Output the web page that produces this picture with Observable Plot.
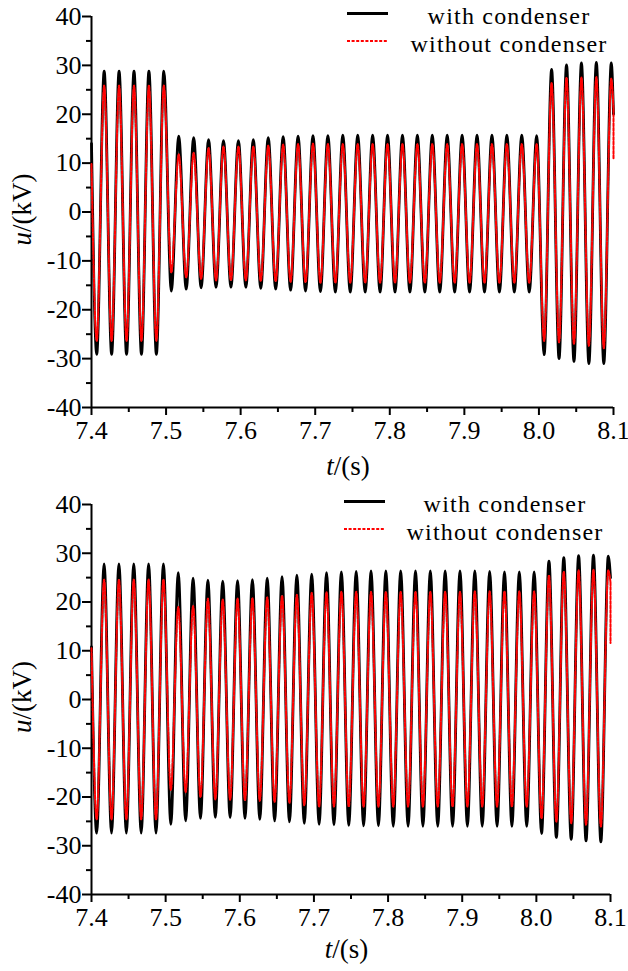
<!DOCTYPE html>
<html>
<head>
<meta charset="utf-8">
<script src="https://cdn.jsdelivr.net/npm/d3@7"></script>
<script src="https://cdn.jsdelivr.net/npm/@observablehq/plot@0.6"></script>
<style>
html, body { margin: 0; padding: 0; background: #fff; }
#chart { width: 628px; }
svg { display: block; }
svg text { font-family: "Times New Roman", "Liberation Serif", Tinos, "Noto Serif", FreeSerif, "DejaVu Serif", Times, serif; }
</style>
</head>
<body>
<div id="chart"></div>
<script>
// ---- axis ticks ----
const xTicks = [7.4, 7.5, 7.6, 7.7, 7.8, 7.9, 8.0, 8.1];
const xTickLabels = ["7.4", "7.5", "7.6", "7.7", "7.8", "7.9", "8.0", "8.1"];
const xMinorTicks = [7.45, 7.55, 7.65, 7.75, 7.85, 7.95, 8.05];
const yTicks = [-40, -30, -20, -10, 0, 10, 20, 30, 40];
const yTickLabels = ["-40", "-30", "-20", "-10", "0", "10", "20", "30", "40"];
const yMinorTicks = [-35, -25, -15, -5, 5, 15, 25, 35];
const seriesNames = ["with condenser", "without condenser"];

// ---- sample times: start, successive half-cycle extremes, end ----
const sampleTimes = [7.4,
  7.407, 7.417, 7.427, 7.437, 7.447, 7.457, 7.467, 7.477, 7.487, 7.497,
  7.507, 7.517, 7.527, 7.537, 7.547, 7.557, 7.567, 7.577, 7.587, 7.597,
  7.607, 7.617, 7.627, 7.637, 7.647, 7.657, 7.667, 7.677, 7.687, 7.697,
  7.707, 7.717, 7.727, 7.737, 7.747, 7.757, 7.767, 7.777, 7.787, 7.797,
  7.807, 7.817, 7.827, 7.837, 7.847, 7.857, 7.867, 7.877, 7.887, 7.897,
  7.907, 7.917, 7.927, 7.937, 7.947, 7.957, 7.967, 7.977, 7.987, 7.997,
  8.007, 8.017, 8.027, 8.037, 8.047, 8.057, 8.067, 8.077, 8.087, 8.097,
  8.1];

// ---- panel 1 (top) ----
const top_with = [14,
  -29.1, 28.8, -29.1, 28.8, -29.1, 28.8, -29.1, 28.8, -29.1, 28.8,
  -16.2, 15.5, -15.8, 15.2, -15.5, 14.8, -15.4, 14.6, -15.4, 14.6,
  -15.4, 14.8, -15.6, 15.2, -15.8, 15.4, -16.0, 15.5, -16.2, 15.6,
  -16.3, 15.6, -16.4, 15.7, -16.4, 15.7, -16.4, 15.7, -16.4, 15.7,
  -16.4, 15.7, -16.4, 15.7, -16.4, 15.7, -16.4, 15.7, -16.4, 15.7,
  -16.4, 15.7, -16.4, 15.7, -16.4, 15.7, -16.4, 15.7, -16.4, 15.6,
  -29.2, 29.2, -30.0, 30.1, -30.6, 30.5, -31.0, 30.6, -31.0, 30.5,
  20];
const top_without = [9.8,
  -26.4, 25.9, -26.4, 25.9, -26.4, 25.9, -26.4, 25.9, -26.4, 25.9,
  -12.4, 11.8, -13.4, 12.1, -13.7, 13.1, -14.0, 13.4, -14.0, 13.4,
  -14.0, 13.4, -14.1, 13.6, -14.2, 13.8, -14.3, 13.9, -14.4, 14.0,
  -14.5, 13.9, -14.5, 13.9, -14.5, 13.9, -14.5, 13.9, -14.5, 13.9,
  -14.5, 13.9, -14.5, 13.9, -14.5, 13.9, -14.5, 13.9, -14.5, 13.9,
  -14.5, 13.9, -14.5, 13.9, -14.5, 13.9, -14.5, 13.9, -14.5, 13.9,
  -26.4, 26.4, -26.7, 27.5, -27.0, 27.5, -27.4, 27.6, -27.9, 27.3,
  21];
const top_without_tail = [21, 11];

// ---- panel 2 (bottom) ----
const bottom_with = [10.8,
  -27.4, 27.8, -27.4, 27.8, -27.4, 27.8, -27.4, 27.8, -27.4, 27.8,
  -25.6, 26.0, -24.9, 24.9, -24.4, 24.5, -24.2, 24.3, -24.2, 24.4,
  -24.4, 24.6, -24.6, 24.9, -24.9, 25.2, -25.1, 25.5, -25.4, 25.7,
  -25.6, 26.0, -25.7, 26.2, -25.8, 26.3, -25.9, 26.4, -25.9, 26.4,
  -26.0, 26.4, -26.0, 26.4, -26.0, 26.4, -26.0, 26.4, -26.0, 26.4,
  -26.0, 26.4, -26.0, 26.3, -26.0, 26.2, -26.0, 26.2, -26.0, 26.2,
  -27.5, 28.4, -28.3, 29.1, -28.7, 29.5, -29.0, 29.6, -29.2, 29.4,
  25];
const bottom_without = [10.5,
  -24.6, 24.6, -24.6, 24.6, -24.6, 24.6, -24.6, 24.6, -24.6, 24.6,
  -18.6, 19.0, -19.0, 19.2, -20.0, 20.7, -20.5, 20.5, -20.6, 20.7,
  -20.7, 20.8, -20.8, 21.0, -21.0, 21.3, -21.2, 21.5, -21.7, 21.9,
  -22.0, 22.0, -22.0, 22.1, -22.0, 22.1, -22.0, 22.1, -22.0, 22.1,
  -22.0, 22.1, -22.0, 22.1, -22.0, 22.1, -22.0, 22.1, -22.0, 22.1,
  -22.0, 22.2, -22.0, 22.2, -22.0, 22.2, -22.0, 22.2, -22.0, 22.2,
  -24.4, 25.5, -25.1, 26.2, -25.4, 26.5, -25.7, 26.6, -26.1, 26.5,
  24];
const bottom_without_tail = [24, 11.6];

const FONT = "Times New Roman, Liberation Serif, Tinos, Noto Serif, FreeSerif, DejaVu Serif, Times, serif";
const toRows = (vals) => vals.map((u, i) => ({t: sampleTimes[i], u}));
const tailRows = (vals) => vals.map(u => ({t: sampleTimes[sampleTimes.length - 1], u}));

function panel(cfg) {
  const xi = d => xTickLabels[xTicks.indexOf(d)];
  const yi = d => yTickLabels[yTicks.indexOf(d)];
  const withRows = toRows(cfg.withVals);
  const withoutRows = toRows(cfg.withoutVals);
  const tail = tailRows(cfg.tail);
  const plot = Plot.plot({
    width: 628,
    height: cfg.height,
    marginLeft: 91,
    marginRight: cfg.marginRight,
    marginTop: 16,
    marginBottom: cfg.marginBottom,
    style: {fontFamily: FONT, fontSize: "26px", color: "#000", background: "#fff", overflow: "visible"},
    x: {domain: [xTicks[0], xTicks[xTicks.length - 1]]},
    y: {domain: [yTicks[0], yTicks[yTicks.length - 1]]},
    marks: [
      Plot.axisY({ticks: yTicks, tickSize: 9, tickPadding: 1, tickFormat: yi, label: null, strokeWidth: 2}),
      Plot.axisY({ticks: yMinorTicks, tickSize: 5, tickFormat: () => "", label: null, strokeWidth: 2}),
      Plot.axisX({ticks: xTicks, tickSize: 8, tickPadding: 5, tickFormat: xi, label: null, strokeWidth: 2}),
      Plot.axisX({ticks: xMinorTicks, tickSize: 5, tickFormat: () => "", label: null, strokeWidth: 2}),
      Plot.ruleX([xTicks[0]], {strokeWidth: 2}),
      Plot.ruleY([yTicks[0]], {strokeWidth: 2}),
      Plot.line(withRows, {x: "t", y: "u", stroke: "#000", strokeWidth: 2.8, curve: "monotone-x"}),
      Plot.line(withoutRows, {x: "t", y: "u", stroke: "#fff", strokeWidth: 1, curve: "monotone-x"}),
      Plot.line(withoutRows, {x: "t", y: "u", stroke: "#ff0000", strokeWidth: 2, strokeDasharray: "3,1.6", curve: "monotone-x"}),
      Plot.line(tail, {x: "t", y: "u", stroke: "#ff0000", strokeWidth: 2, strokeDasharray: "3,1.6"})
    ]
  });
  const svg = d3.select(plot);
  const x = plot.scale("x"), y = plot.scale("y");
  const x0 = x.apply(xTicks[0]), x1 = x.apply(xTicks[xTicks.length - 1]);
  // axis titles
  const yt = svg.append("text")
    .attr("transform", `translate(31,${y.apply(0) - 2}) rotate(-90)`)
    .attr("text-anchor", "middle").attr("font-size", 27).attr("fill", "#000");
  yt.append("tspan").attr("font-style", "italic").text("u");
  yt.append("tspan").text("/(kV)");
  const xt = svg.append("text")
    .attr("x", (x0 + x1) / 2 - 4).attr("y", cfg.height - 13)
    .attr("text-anchor", "middle").attr("font-size", 27).attr("fill", "#000");
  xt.append("tspan").attr("font-style", "italic").text("t");
  xt.append("tspan").text("/(s)");
  // legend
  const lg = svg.append("g").attr("font-size", 24).attr("fill", "#000");
  const lx0 = cfg.legendX, lx1 = cfg.legendX + 41;
  lg.append("line").attr("x1", lx0).attr("x2", lx1).attr("y1", 13.5).attr("y2", 13.5)
    .attr("stroke", "#000").attr("stroke-width", 3);
  lg.append("line").attr("x1", lx0).attr("x2", lx1).attr("y1", 41).attr("y2", 41)
    .attr("stroke", "#ff0000").attr("stroke-width", 2).attr("stroke-dasharray", "3,1.6");
  lg.append("text").attr("x", cfg.legendTextX).attr("y", 23.5).attr("text-anchor", "middle")
    .attr("letter-spacing", 1.2).text(seriesNames[0]);
  lg.append("text").attr("x", cfg.legendTextX).attr("y", 51.5).attr("text-anchor", "middle")
    .attr("letter-spacing", 1.2).text(seriesNames[1]);
  return plot;
}

const root = document.getElementById("chart");
root.appendChild(panel({height: 488, marginRight: 15, marginBottom: 81,
  withVals: top_with, withoutVals: top_without, tail: top_without_tail,
  legendX: 347, legendTextX: 509}));
root.appendChild(panel({height: 483, marginRight: 18, marginBottom: 77,
  withVals: bottom_with, withoutVals: bottom_without, tail: bottom_without_tail,
  legendX: 344, legendTextX: 505}));
</script>
</body>
</html>
